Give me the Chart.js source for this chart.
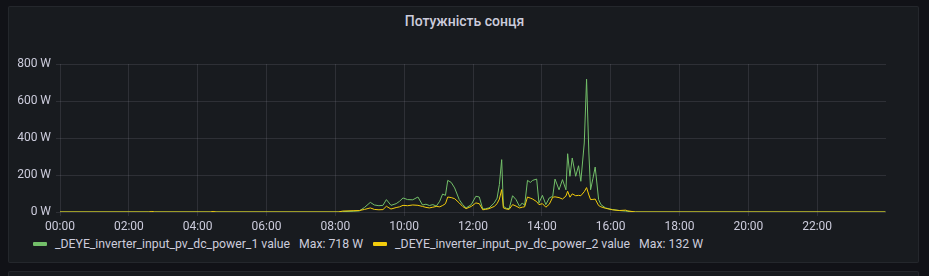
<!DOCTYPE html>
<html>
<head>
<meta charset="utf-8">
<script src="https://cdn.jsdelivr.net/npm/chart.js"></script>
<style>
  html, body { margin: 0; padding: 0; background: #111217; width: 929px; height: 276px; overflow: hidden; font-family: Roboto, "Noto Sans", sans-serif; }
  .panel { position: absolute; left: 8px; top: 6px; width: 909px; height: 255px; background: #181b1f; border: 1px solid rgba(204,204,220,0.07); border-radius: 2px; }
  .panel2 { position: absolute; left: 8px; top: 271px; width: 909px; height: 20px; background: #181b1f; border: 1px solid rgba(204,204,220,0.07); border-radius: 2px; }
  .title { position: absolute; left: 0; top: 13px; width: 929px; text-align: center; color: #ccccdc; font-size: 14px; font-weight: 500; }
  .chart-box { position: absolute; left: 0; top: 50px; width: 929px; height: 186px; }
  .legend { position: absolute; left: 33px; top: 237px; display: flex; align-items: center; color: #ccccdc; font-size: 12.25px; white-space: nowrap; }
  .legend .sw { width: 14px; height: 4px; border-radius: 1px; margin-right: 8px; }
  .legend .max { margin-left: 9px; margin-right: 10px; }
</style>
</head>
<body>
<div class="panel"></div>
<div class="panel2"></div>
<div class="title">Потужність сонця</div>
<div class="chart-box"><canvas id="graph-pv"></canvas></div>
<div class="legend" id="legend"></div>
<script>
// хвилини від півночі
const times = [0, 155, 160, 165, 262, 267, 272, 485, 493, 511, 522, 531, 541, 548, 556, 563, 569, 577, 586, 592,
  598, 606, 615, 624, 632, 638, 644, 650, 656, 662, 667, 672, 676, 682, 688, 696, 702, 708, 717, 725,
  731, 737, 742, 748, 757, 762, 766, 770, 773, 778, 783, 789, 795, 801, 806, 810, 815, 820, 824, 831,
  835, 841, 847, 853, 859, 863, 870, 876, 882, 885, 889, 893, 899, 904, 908, 914, 918, 922, 925, 929,
  933, 939, 943, 951, 963, 975, 986, 990, 1003, 1439];
const pv1 = [0, 0, 0, 0, 0, 0, 0, 0, 2, 4, 6, 25, 52, 38, 34, 36, 67, 36, 45, 58,
  76, 67, 66, 81, 38, 42, 35, 40, 32, 58, 97, 90, 171, 160, 130, 67, 40, 22, 40, 85,
  81, 16, 18, 22, 49, 75, 148, 283, 31, 20, 18, 88, 67, 31, 49, 35, 171, 160, 171, 178,
  49, 90, 40, 76, 85, 178, 120, 175, 120, 315, 193, 292, 193, 250, 166, 373, 718, 319, 120, 180,
  243, 67, 40, 22, 13, 8, 5, 3, 0, 0];
const pv2 = [0, 0, 3, 0, 0, 3, 0, 0, 5, 7, 8, 14, 22, 14, 12, 13, 31, 16, 24, 28,
  36, 34, 38, 36, 30, 25, 22, 26, 30, 28, 35, 45, 81, 78, 72, 49, 30, 18, 30, 49,
  45, 12, 14, 18, 30, 45, 70, 121, 22, 16, 14, 40, 32, 22, 26, 28, 81, 75, 70, 56,
  40, 45, 26, 42, 80, 82, 78, 70, 86, 112, 80, 98, 88, 90, 88, 110, 132, 92, 67, 68,
  70, 35, 28, 20, 12, 8, 10, 6, 0, 0];
const hourTicks = [0, 120, 240, 360, 480, 600, 720, 840, 960, 1080, 1200, 1320];
const powerTicks = [0, 200, 400, 600, 800];

const seriesNames = ['_DEYE_inverter_input_pv_dc_power_1 value', '_DEYE_inverter_input_pv_dc_power_2 value'];
const colors = ['#73BF69', '#F2CC0C'];

const toPoints = vals => times.map((t, i) => ({ x: t, y: vals[i] }));
const gridColor = 'rgba(204,204,220,0.12)';
const textColor = '#ccccdc';

new Chart(document.getElementById('graph-pv').getContext('2d'), {
    type: 'line',
    data: {
        datasets: [
            { label: seriesNames[0], data: toPoints(pv1), borderColor: colors[0], borderWidth: 1, pointRadius: 0, tension: 0, order: 1 },
            { label: seriesNames[1], data: toPoints(pv2), borderColor: colors[1], borderWidth: 1, pointRadius: 0, tension: 0, order: 0 }
        ]
    },
    options: {
        responsive: true,
        maintainAspectRatio: false,
        animation: false,
        layout: { padding: { top: 14, right: 43, left: 0, bottom: 0 } },
        plugins: { legend: { display: false }, title: { display: false }, tooltip: { enabled: false } },
        scales: {
            x: {
                type: 'linear', min: 0, max: 1440,
                afterBuildTicks: s => { s.ticks = hourTicks.map(v => ({ value: v })); },
                afterFit: s => { s.height = 24; },
                grid: { color: gridColor, tickLength: 4 },
                border: { display: false },
                ticks: {
                    color: textColor, font: { family: 'Roboto', size: 12 }, padding: 4, maxRotation: 0,
                    callback: v => String(v / 60).padStart(2, '0') + ':00'
                }
            },
            y: {
                min: 0, max: 800,
                afterBuildTicks: s => { s.ticks = powerTicks.map(v => ({ value: v })); },
                afterFit: s => { s.width = 60; },
                grid: { color: gridColor, tickLength: 4 },
                border: { display: false },
                ticks: { color: textColor, font: { family: 'Roboto', size: 12 }, padding: 5, callback: v => v + ' W' }
            }
        }
    }
});

// легенда як у Grafana
const legend = document.getElementById('legend');
[pv1, pv2].forEach((vals, i) => {
    legend.insertAdjacentHTML('beforeend',
        `<span class="sw" style="background:${colors[i]}"></span><span>${seriesNames[i]}</span>` +
        `<span class="max">Max: ${Math.max(...vals)} W</span>`);
});
</script>
</body>
</html>
